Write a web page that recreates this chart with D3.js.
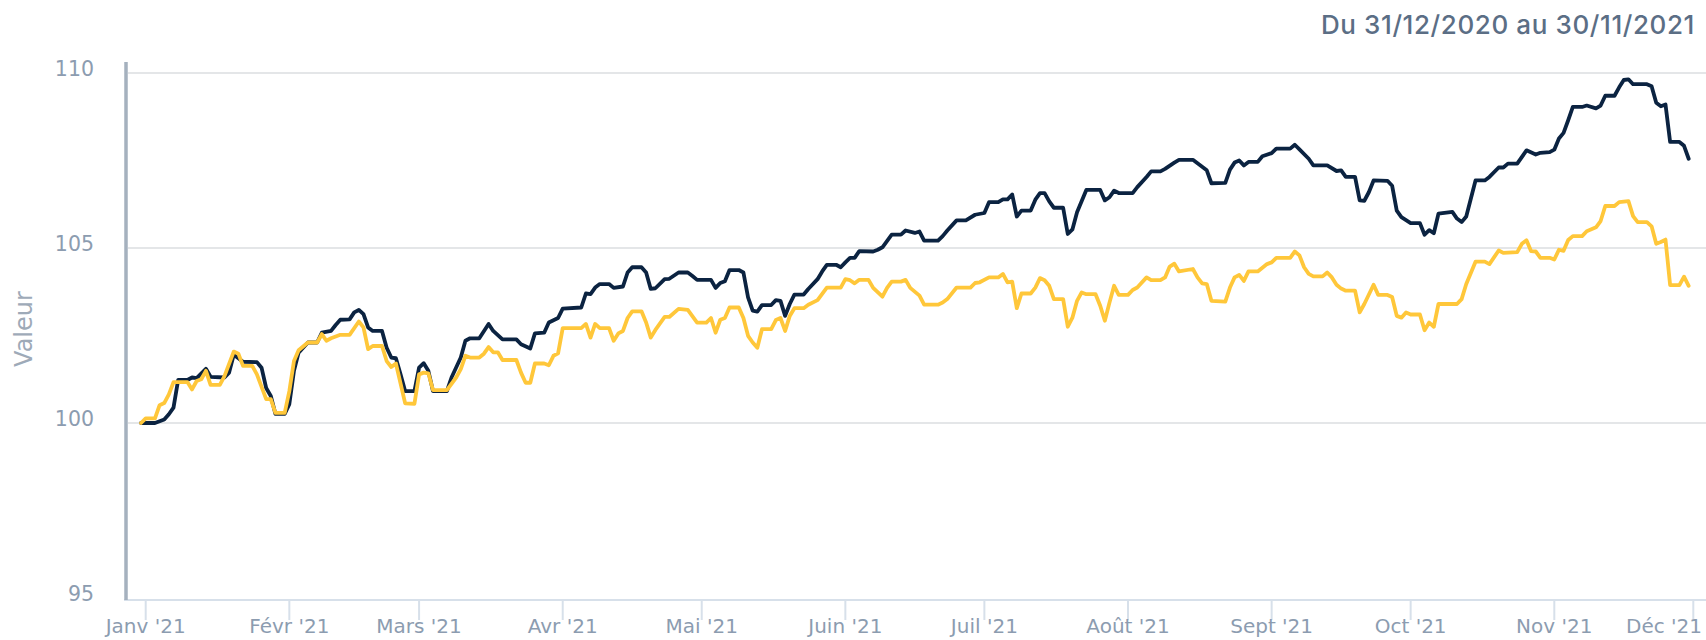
<!DOCTYPE html>
<html>
<head>
<meta charset="utf-8">
<script src="https://cdn.jsdelivr.net/npm/d3@7"></script>
<style>
  body { margin: 0; background: #fff; }
  svg { display: block; }
</style>
</head>
<body>
<div id="chart"></div>
<script>
const svgWidth = 1706;
const svgHeight = 640;

const titleText = "Du 31/12/2020 au 30/11/2021";
const yAxisTitle = "Valeur";
const yTicks = [95, 100, 105, 110];
const monthLabels = ["Janv '21", "Févr '21", "Mars '21", "Avr '21", "Mai '21", "Juin '21",
  "Juil '21", "Août '21", "Sept '21", "Oct '21", "Nov '21", "Déc '21"];

// dark blue series
const navyPoints = [
  ["2020-12-31", 100.0], ["2021-01-03", 100.0], ["2021-01-05", 100.1], ["2021-01-06", 100.25],
  ["2021-01-07", 100.44], ["2021-01-08", 101.23], ["2021-01-10", 101.23], ["2021-01-11", 101.3],
  ["2021-01-12", 101.28], ["2021-01-14", 101.55], ["2021-01-15", 101.32], ["2021-01-18", 101.3],
  ["2021-01-19", 101.44], ["2021-01-20", 101.95], ["2021-01-22", 101.75], ["2021-01-25", 101.74],
  ["2021-01-26", 101.58], ["2021-01-27", 101.0], ["2021-01-28", 100.77], ["2021-01-29", 100.26],
  ["2021-01-31", 100.26], ["2021-02-01", 100.54], ["2021-02-02", 101.49], ["2021-02-03", 102.01],
  ["2021-02-05", 102.3], ["2021-02-07", 102.3], ["2021-02-08", 102.58], ["2021-02-10", 102.63],
  ["2021-02-11", 102.8], ["2021-02-12", 102.95], ["2021-02-14", 102.96], ["2021-02-15", 103.16],
  ["2021-02-16", 103.23], ["2021-02-17", 103.11], ["2021-02-18", 102.73], ["2021-02-19", 102.63],
  ["2021-02-21", 102.63], ["2021-02-22", 102.15], ["2021-02-23", 101.87], ["2021-02-24", 101.85],
  ["2021-02-25", 101.39], ["2021-02-26", 100.91], ["2021-02-28", 100.91], ["2021-03-01", 101.58],
  ["2021-03-02", 101.71], ["2021-03-03", 101.49], ["2021-03-04", 100.91], ["2021-03-07", 100.91],
  ["2021-03-08", 101.3], ["2021-03-10", 101.87], ["2021-03-11", 102.35], ["2021-03-12", 102.42],
  ["2021-03-14", 102.42], ["2021-03-16", 102.83], ["2021-03-17", 102.63], ["2021-03-19", 102.39],
  ["2021-03-22", 102.39], ["2021-03-23", 102.25], ["2021-03-25", 102.13], ["2021-03-26", 102.56],
  ["2021-03-28", 102.58], ["2021-03-29", 102.87], ["2021-03-31", 103.0], ["2021-04-01", 103.27],
  ["2021-04-05", 103.3], ["2021-04-06", 103.7], ["2021-04-07", 103.68], ["2021-04-08", 103.87],
  ["2021-04-09", 103.97], ["2021-04-11", 103.97], ["2021-04-12", 103.86], ["2021-04-14", 103.9],
  ["2021-04-15", 104.3], ["2021-04-16", 104.45], ["2021-04-18", 104.45], ["2021-04-19", 104.3],
  ["2021-04-20", 103.83], ["2021-04-21", 103.85], ["2021-04-23", 104.11], ["2021-04-24", 104.12],
  ["2021-04-26", 104.3], ["2021-04-28", 104.3], ["2021-04-29", 104.2], ["2021-04-30", 104.09],
  ["2021-05-03", 104.09], ["2021-05-04", 103.86], ["2021-05-05", 104.0], ["2021-05-06", 104.05],
  ["2021-05-07", 104.37], ["2021-05-09", 104.37], ["2021-05-10", 104.3], ["2021-05-11", 103.59],
  ["2021-05-12", 103.21], ["2021-05-13", 103.18], ["2021-05-14", 103.37], ["2021-05-16", 103.37],
  ["2021-05-17", 103.51], ["2021-05-18", 103.49], ["2021-05-19", 103.06], ["2021-05-20", 103.4],
  ["2021-05-21", 103.67], ["2021-05-23", 103.67], ["2021-05-24", 103.83], ["2021-05-26", 104.11],
  ["2021-05-27", 104.33], ["2021-05-28", 104.52], ["2021-05-30", 104.52], ["2021-05-31", 104.45],
  ["2021-06-01", 104.59], ["2021-06-02", 104.72], ["2021-06-03", 104.72], ["2021-06-04", 104.91],
  ["2021-06-07", 104.9], ["2021-06-08", 104.95], ["2021-06-09", 105.02], ["2021-06-11", 105.38],
  ["2021-06-13", 105.38], ["2021-06-14", 105.5], ["2021-06-16", 105.43], ["2021-06-17", 105.47],
  ["2021-06-18", 105.21], ["2021-06-21", 105.21], ["2021-06-22", 105.34], ["2021-06-23", 105.5],
  ["2021-06-25", 105.79], ["2021-06-27", 105.79], ["2021-06-29", 105.95], ["2021-07-01", 106.0],
  ["2021-07-02", 106.31], ["2021-07-04", 106.31], ["2021-07-05", 106.39], ["2021-07-06", 106.39],
  ["2021-07-07", 106.53], ["2021-07-08", 105.9], ["2021-07-09", 106.07], ["2021-07-11", 106.07],
  ["2021-07-12", 106.38], ["2021-07-13", 106.57], ["2021-07-14", 106.57], ["2021-07-15", 106.33],
  ["2021-07-16", 106.15], ["2021-07-18", 106.15], ["2021-07-19", 105.4], ["2021-07-20", 105.53],
  ["2021-07-21", 106.02], ["2021-07-23", 106.66], ["2021-07-26", 106.66], ["2021-07-27", 106.36],
  ["2021-07-28", 106.45], ["2021-07-29", 106.64], ["2021-07-30", 106.57], ["2021-08-02", 106.57],
  ["2021-08-03", 106.74], ["2021-08-05", 107.03], ["2021-08-06", 107.19], ["2021-08-08", 107.19],
  ["2021-08-09", 107.26], ["2021-08-11", 107.44], ["2021-08-12", 107.52], ["2021-08-15", 107.52],
  ["2021-08-16", 107.42], ["2021-08-18", 107.22], ["2021-08-19", 106.85], ["2021-08-22", 106.86],
  ["2021-08-23", 107.24], ["2021-08-24", 107.44], ["2021-08-25", 107.5], ["2021-08-26", 107.36],
  ["2021-08-27", 107.46], ["2021-08-29", 107.46], ["2021-08-30", 107.62], ["2021-09-01", 107.71],
  ["2021-09-02", 107.84], ["2021-09-05", 107.84], ["2021-09-06", 107.95], ["2021-09-07", 107.82],
  ["2021-09-09", 107.55], ["2021-09-10", 107.36], ["2021-09-13", 107.36], ["2021-09-15", 107.2],
  ["2021-09-16", 107.22], ["2021-09-17", 107.03], ["2021-09-19", 107.03], ["2021-09-20", 106.36],
  ["2021-09-21", 106.35], ["2021-09-22", 106.6], ["2021-09-23", 106.93], ["2021-09-26", 106.92],
  ["2021-09-27", 106.78], ["2021-09-28", 106.07], ["2021-09-29", 105.88], ["2021-10-01", 105.71],
  ["2021-10-03", 105.71], ["2021-10-04", 105.38], ["2021-10-05", 105.51], ["2021-10-06", 105.42],
  ["2021-10-07", 105.98], ["2021-10-10", 106.03], ["2021-10-11", 105.84], ["2021-10-12", 105.74],
  ["2021-10-13", 105.9], ["2021-10-15", 106.93], ["2021-10-17", 106.93], ["2021-10-18", 107.03],
  ["2021-10-20", 107.3], ["2021-10-21", 107.3], ["2021-10-22", 107.41], ["2021-10-24", 107.41],
  ["2021-10-26", 107.79], ["2021-10-28", 107.67], ["2021-10-29", 107.72], ["2021-10-31", 107.74],
  ["2021-11-01", 107.81], ["2021-11-02", 108.13], ["2021-11-03", 108.29], ["2021-11-04", 108.65],
  ["2021-11-05", 109.03], ["2021-11-07", 109.03], ["2021-11-08", 109.07], ["2021-11-10", 108.99],
  ["2021-11-11", 109.07], ["2021-11-12", 109.35], ["2021-11-14", 109.35], ["2021-11-15", 109.59],
  ["2021-11-16", 109.8], ["2021-11-17", 109.82], ["2021-11-18", 109.68], ["2021-11-21", 109.68],
  ["2021-11-22", 109.62], ["2021-11-23", 109.15], ["2021-11-24", 109.05], ["2021-11-25", 109.1],
  ["2021-11-26", 108.03], ["2021-11-28", 108.03], ["2021-11-29", 107.92], ["2021-11-30", 107.55]
];

// yellow series
const goldPoints = [
  ["2020-12-31", 100.0], ["2021-01-01", 100.13], ["2021-01-03", 100.13], ["2021-01-04", 100.51],
  ["2021-01-05", 100.57], ["2021-01-06", 100.82], ["2021-01-07", 101.17], ["2021-01-10", 101.17],
  ["2021-01-11", 100.96], ["2021-01-12", 101.2], ["2021-01-13", 101.25], ["2021-01-14", 101.49],
  ["2021-01-15", 101.09], ["2021-01-17", 101.09], ["2021-01-18", 101.34], ["2021-01-20", 102.04],
  ["2021-01-21", 101.98], ["2021-01-22", 101.63], ["2021-01-24", 101.63], ["2021-01-25", 101.39],
  ["2021-01-27", 100.68], ["2021-01-28", 100.68], ["2021-01-29", 100.29], ["2021-01-31", 100.29],
  ["2021-02-01", 100.91], ["2021-02-02", 101.77], ["2021-02-03", 102.08], ["2021-02-05", 102.3],
  ["2021-02-07", 102.3], ["2021-02-08", 102.54], ["2021-02-09", 102.35], ["2021-02-10", 102.42],
  ["2021-02-12", 102.52], ["2021-02-14", 102.52], ["2021-02-16", 102.9], ["2021-02-17", 102.73],
  ["2021-02-18", 102.11], ["2021-02-19", 102.2], ["2021-02-21", 102.2], ["2021-02-22", 101.77],
  ["2021-02-23", 101.6], ["2021-02-24", 101.7], ["2021-02-26", 100.56], ["2021-02-28", 100.55],
  ["2021-03-01", 101.39], ["2021-03-02", 101.44], ["2021-03-03", 101.42], ["2021-03-04", 100.94],
  ["2021-03-07", 100.94], ["2021-03-09", 101.3], ["2021-03-10", 101.54], ["2021-03-11", 101.92],
  ["2021-03-12", 101.87], ["2021-03-14", 101.87], ["2021-03-15", 101.98], ["2021-03-16", 102.17],
  ["2021-03-17", 102.02], ["2021-03-18", 102.02], ["2021-03-19", 101.8], ["2021-03-22", 101.8],
  ["2021-03-23", 101.44], ["2021-03-24", 101.15], ["2021-03-25", 101.15], ["2021-03-26", 101.7],
  ["2021-03-28", 101.7], ["2021-03-29", 101.65], ["2021-03-30", 101.92], ["2021-03-31", 101.99],
  ["2021-04-01", 102.71], ["2021-04-05", 102.71], ["2021-04-06", 102.83], ["2021-04-07", 102.44],
  ["2021-04-08", 102.83], ["2021-04-09", 102.71], ["2021-04-11", 102.71], ["2021-04-12", 102.35],
  ["2021-04-13", 102.56], ["2021-04-14", 102.63], ["2021-04-15", 103.0], ["2021-04-16", 103.19],
  ["2021-04-18", 103.19], ["2021-04-19", 102.87], ["2021-04-20", 102.44], ["2021-04-21", 102.66],
  ["2021-04-23", 103.03], ["2021-04-24", 103.03], ["2021-04-26", 103.26], ["2021-04-28", 103.23],
  ["2021-04-30", 102.87], ["2021-05-02", 102.87], ["2021-05-03", 103.0], ["2021-05-04", 102.58],
  ["2021-05-05", 102.95], ["2021-05-06", 103.0], ["2021-05-07", 103.3], ["2021-05-09", 103.3],
  ["2021-05-10", 103.0], ["2021-05-11", 102.49], ["2021-05-12", 102.3], ["2021-05-13", 102.15],
  ["2021-05-14", 102.68], ["2021-05-16", 102.68], ["2021-05-17", 102.94], ["2021-05-18", 103.0],
  ["2021-05-19", 102.63], ["2021-05-20", 103.06], ["2021-05-21", 103.28], ["2021-05-23", 103.28],
  ["2021-05-24", 103.38], ["2021-05-26", 103.51], ["2021-05-27", 103.69], ["2021-05-28", 103.87],
  ["2021-05-31", 103.87], ["2021-06-01", 104.11], ["2021-06-02", 104.08], ["2021-06-03", 103.99],
  ["2021-06-04", 104.09], ["2021-06-06", 104.09], ["2021-06-07", 103.86], ["2021-06-09", 103.61],
  ["2021-06-10", 103.86], ["2021-06-11", 104.04], ["2021-06-13", 104.04], ["2021-06-14", 104.09],
  ["2021-06-15", 103.86], ["2021-06-17", 103.64], ["2021-06-18", 103.38], ["2021-06-21", 103.38],
  ["2021-06-22", 103.44], ["2021-06-23", 103.54], ["2021-06-25", 103.87], ["2021-06-28", 103.87],
  ["2021-06-29", 104.0], ["2021-06-30", 104.02], ["2021-07-02", 104.16], ["2021-07-04", 104.16],
  ["2021-07-05", 104.26], ["2021-07-06", 104.02], ["2021-07-07", 104.04], ["2021-07-08", 103.28],
  ["2021-07-09", 103.7], ["2021-07-11", 103.7], ["2021-07-12", 103.87], ["2021-07-13", 104.14],
  ["2021-07-14", 104.08], ["2021-07-15", 103.92], ["2021-07-16", 103.54], ["2021-07-18", 103.54],
  ["2021-07-19", 102.75], ["2021-07-20", 103.01], ["2021-07-21", 103.49], ["2021-07-22", 103.73],
  ["2021-07-23", 103.68], ["2021-07-25", 103.68], ["2021-07-26", 103.35], ["2021-07-27", 102.92],
  ["2021-07-28", 103.44], ["2021-07-29", 103.92], ["2021-07-30", 103.66], ["2021-08-01", 103.66],
  ["2021-08-02", 103.8], ["2021-08-03", 103.87], ["2021-08-05", 104.16], ["2021-08-06", 104.08],
  ["2021-08-08", 104.08], ["2021-08-09", 104.16], ["2021-08-10", 104.47], ["2021-08-11", 104.55],
  ["2021-08-12", 104.33], ["2021-08-15", 104.4], ["2021-08-16", 104.16], ["2021-08-17", 103.99],
  ["2021-08-18", 103.97], ["2021-08-19", 103.49], ["2021-08-22", 103.47], ["2021-08-23", 103.87],
  ["2021-08-24", 104.16], ["2021-08-25", 104.23], ["2021-08-26", 104.06], ["2021-08-27", 104.33],
  ["2021-08-29", 104.33], ["2021-08-31", 104.54], ["2021-09-01", 104.59], ["2021-09-02", 104.72],
  ["2021-09-05", 104.72], ["2021-09-06", 104.9], ["2021-09-07", 104.79], ["2021-09-08", 104.45],
  ["2021-09-09", 104.26], ["2021-09-10", 104.19], ["2021-09-12", 104.19], ["2021-09-13", 104.3],
  ["2021-09-14", 104.16], ["2021-09-15", 103.95], ["2021-09-16", 103.84], ["2021-09-17", 103.78],
  ["2021-09-19", 103.78], ["2021-09-20", 103.16], ["2021-09-21", 103.4], ["2021-09-23", 103.95],
  ["2021-09-24", 103.66], ["2021-09-26", 103.66], ["2021-09-27", 103.6], ["2021-09-28", 103.06],
  ["2021-09-29", 103.01], ["2021-09-30", 103.16], ["2021-10-01", 103.1], ["2021-10-03", 103.1],
  ["2021-10-04", 102.65], ["2021-10-05", 102.87], ["2021-10-06", 102.75], ["2021-10-07", 103.4],
  ["2021-10-11", 103.4], ["2021-10-12", 103.54], ["2021-10-13", 103.97], ["2021-10-15", 104.61],
  ["2021-10-17", 104.61], ["2021-10-18", 104.54], ["2021-10-20", 104.93], ["2021-10-21", 104.86],
  ["2021-10-24", 104.88], ["2021-10-25", 105.12], ["2021-10-26", 105.22], ["2021-10-27", 104.91],
  ["2021-10-28", 104.9], ["2021-10-29", 104.72], ["2021-10-31", 104.72], ["2021-11-01", 104.67],
  ["2021-11-02", 104.95], ["2021-11-03", 104.92], ["2021-11-04", 105.23], ["2021-11-05", 105.34],
  ["2021-11-07", 105.34], ["2021-11-08", 105.48], ["2021-11-10", 105.59], ["2021-11-11", 105.77],
  ["2021-11-12", 106.2], ["2021-11-14", 106.2], ["2021-11-15", 106.31], ["2021-11-17", 106.34],
  ["2021-11-18", 105.91], ["2021-11-19", 105.74], ["2021-11-21", 105.74], ["2021-11-22", 105.62],
  ["2021-11-23", 105.12], ["2021-11-24", 105.17], ["2021-11-25", 105.24], ["2021-11-26", 103.94],
  ["2021-11-28", 103.94], ["2021-11-29", 104.18], ["2021-11-30", 103.92]
];

const parseDate = d3.timeParse("%Y-%m-%d");
const plotLeft = 126;
const plotRight = 1706;

var svg = d3.select("#chart")
  .append("svg")
  .attr("width", svgWidth)
  .attr("height", svgHeight);

var xScale = d3.scaleTime()
  .domain([new Date(2021, 0, 1), new Date(2021, 11, 1)])
  .range([145.7, 1693.3]);

var yScale = d3.scaleLinear()
  .domain([95, 110])
  .range([598, 73]);

// grid lines
svg.append("g")
  .selectAll("line")
  .data(yTicks.filter(d => d > 95))
  .enter()
  .append("line")
  .attr("x1", plotLeft + 2)
  .attr("x2", plotRight)
  .attr("y1", d => yScale(d))
  .attr("y2", d => yScale(d))
  .attr("stroke", "#e4e6e8")
  .attr("stroke-width", 2);

// y tick labels
svg.append("g")
  .selectAll("text")
  .data(yTicks)
  .enter()
  .append("text")
  .attr("x", 94)
  .attr("y", d => yScale(d) + 3)
  .attr("text-anchor", "end")
  .style("font-family", "DejaVu Sans")
  .style("font-size", "20.5px")
  .style("fill", "#8c9cb0")
  .text(d => d);

svg.append("text")
  .attr("transform", "translate(32,329) rotate(-90)")
  .attr("text-anchor", "middle")
  .style("font-family", "DejaVu Sans")
  .style("font-size", "24px")
  .style("fill", "#9eaab8")
  .text(yAxisTitle);

// x axis
var months = d3.timeMonth.range(new Date(2021, 0, 1), new Date(2021, 11, 2));

svg.append("line")
  .attr("x1", plotLeft - 2)
  .attr("x2", plotRight)
  .attr("y1", 600)
  .attr("y2", 600)
  .attr("stroke", "#d7e0ea")
  .attr("stroke-width", 2);

svg.append("g")
  .selectAll("line")
  .data(months)
  .enter()
  .append("line")
  .attr("x1", d => xScale(d))
  .attr("x2", d => xScale(d))
  .attr("y1", 600)
  .attr("y2", 620)
  .attr("stroke", "#d7e0ea")
  .attr("stroke-width", 2);

svg.append("g")
  .selectAll("text")
  .data(months)
  .enter()
  .append("text")
  .attr("x", d => xScale(d))
  .attr("y", 633)
  .attr("text-anchor", "middle")
  .style("font-family", "DejaVu Sans")
  .style("font-size", "20px")
  .style("fill", "#8c9cb0")
  .text((d, i) => monthLabels[i])
  .each(function () {
    // keep the last label inside the picture
    var box = this.getBBox();
    if (box.x + box.width > svgWidth - 4) {
      d3.select(this).attr("x", svgWidth - 4 - box.width / 2);
    }
  });

// y axis line
svg.append("line")
  .attr("x1", plotLeft)
  .attr("x2", plotLeft)
  .attr("y1", 62)
  .attr("y2", 600)
  .attr("stroke", "#a5b1be")
  .attr("stroke-width", 3.5);

// series
var line = d3.line()
  .x(d => xScale(parseDate(d[0])))
  .y(d => yScale(d[1]));

svg.append("path")
  .datum(navyPoints)
  .attr("d", line)
  .attr("fill", "none")
  .attr("stroke", "#0b2341")
  .attr("stroke-width", 3.8)
  .attr("stroke-linejoin", "round")
  .attr("stroke-linecap", "round");

svg.append("path")
  .datum(goldPoints)
  .attr("d", line)
  .attr("fill", "none")
  .attr("stroke", "#ffc73a")
  .attr("stroke-width", 3.8)
  .attr("stroke-linejoin", "round")
  .attr("stroke-linecap", "round");

// title
svg.append("text")
  .attr("x", 1695)
  .attr("y", 34)
  .attr("text-anchor", "end")
  .style("font-family", "Inter")
  .style("font-size", "26px")
  .style("font-weight", "500")
  .style("letter-spacing", "0.6px")
  .style("fill", "#5b6e85")
  .text(titleText);
</script>
</body>
</html>
